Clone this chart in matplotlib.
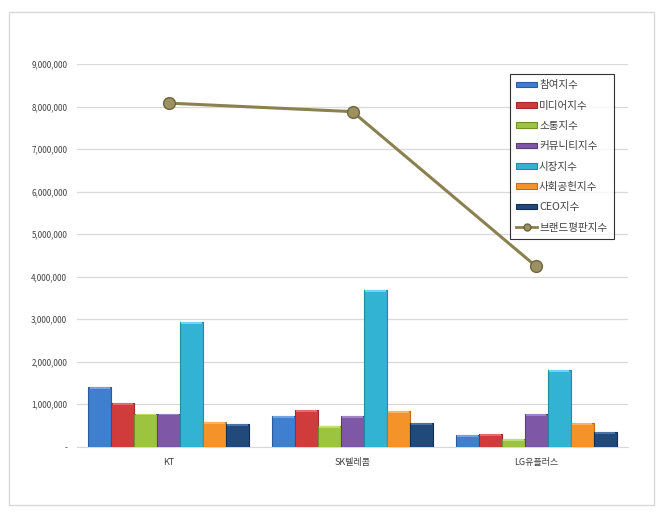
import matplotlib
matplotlib.use("Agg")
import matplotlib.pyplot as plt
import numpy as np
from matplotlib.patches import Rectangle
from matplotlib.lines import Line2D
from matplotlib.ticker import FuncFormatter

plt.rcParams['font.family'] = ['Noto Sans CJK KR', 'DejaVu Sans']

categories = ["KT", "SK텔레콤", "LG유플러스"]
series_names = ["참여지수", "미디어지수", "소통지수", "커뮤니티지수", "시장지수", "사회공헌지수", "CEO지수"]
participation = [1410000, 720000, 270000]
media = [1020000, 860000, 300000]
communication = [780000, 490000, 170000]
community = [780000, 730000, 770000]
market = [2940000, 3690000, 1800000]
social = [570000, 840000, 560000]
ceo = [530000, 550000, 340000]
brand_index = [8080000, 7880000, 4240000]
line_name = "브랜드평판지수"
yticks = [0, 1000000, 2000000, 3000000, 4000000, 5000000, 6000000, 7000000, 8000000, 9000000]

series_values = [participation, media, communication, community, market, social, ceo]
colors = ["#3F7FCF", "#D03C3C", "#9CC43E", "#7E58A6", "#33B3D3", "#F5932B", "#21497A"]
edges = ["#2A5C9E", "#9C2A2A", "#6E9127", "#5A3D7D", "#2388A2", "#C06E15", "#142F52"]
tops = ["#6FA3E3", "#E56A6A", "#BEDD72", "#A082C6", "#6FD4EC", "#FDB366", "#4A72A6"]

fig = plt.figure(figsize=(6.6, 5.13), dpi=100)
fig.patches.append(Rectangle((9/660, 1-505/513), 645/660, 493/513, transform=fig.transFigure,
                             fill=False, edgecolor="#D9D9D9", linewidth=1))
ax = fig.add_axes([77/660, 1-446.7/513, 551/660, (446.7-64)/513])

x = np.arange(len(categories))
n = len(series_values)
w = 0.125
handles = []
cap = 45000
for i, (vals, c, e, t, name) in enumerate(zip(series_values, colors, edges, tops, series_names)):
    pos = x + (i - (n-1)/2) * w
    b = ax.bar(pos, vals, width=w, color=c, edgecolor=e, linewidth=0.8, label=name, zorder=3)
    handles.append(b)
    ax.bar(pos, [cap for v in vals], bottom=[v - cap for v in vals], width=w*0.9,
           color=t, linewidth=0, zorder=4)

ax.plot(x, brand_index, color="#8A8050", linewidth=2.2, marker='o', markersize=8.5,
        markerfacecolor="#9C9160", markeredgecolor="#6E6540", zorder=5)
line_handle = Line2D([], [], color="#8A8050", linewidth=2.0, marker='o', markersize=5,
                     markerfacecolor="#9C9160", markeredgecolor="#6E6540")
handles.append(line_handle)
labels = series_names + [line_name]

ax.set_xlim(-0.5, 2.5)
ax.set_ylim(0, 9000000)
ax.set_yticks(yticks)
ax.yaxis.set_major_formatter(FuncFormatter(lambda v, p: "-" if v == 0 else f"{int(v):,}"))
ax.set_xticks(x)
ax.set_xticklabels(categories)
ax.tick_params(axis='y', labelsize=5.8, length=0, pad=7, colors="#404040")
ax.tick_params(axis='x', labelsize=6.5, length=0, pad=8, colors="#404040")
ax.grid(axis='y', color="#D9D9D9", linewidth=0.9, zorder=0)
for s in ["top", "right", "left"]:
    ax.spines[s].set_visible(False)
ax.spines["bottom"].set_color("#D9D9D9")
ax.set_axisbelow(True)

leg = ax.legend(handles, labels, loc="upper left", bbox_to_anchor=(510/660, 1-74/513),
                bbox_transform=fig.transFigure,
                fontsize=7.6, frameon=True, fancybox=False, borderaxespad=0, handlelength=2.0,
                handleheight=0.45, handletextpad=0.15, labelspacing=0.98, borderpad=0.6)
leg.get_frame().set_edgecolor("black")
leg.get_frame().set_linewidth(0.8)
for t in leg.get_texts():
    t.set_color("#404040")

fig.savefig("out.png", dpi=100)
